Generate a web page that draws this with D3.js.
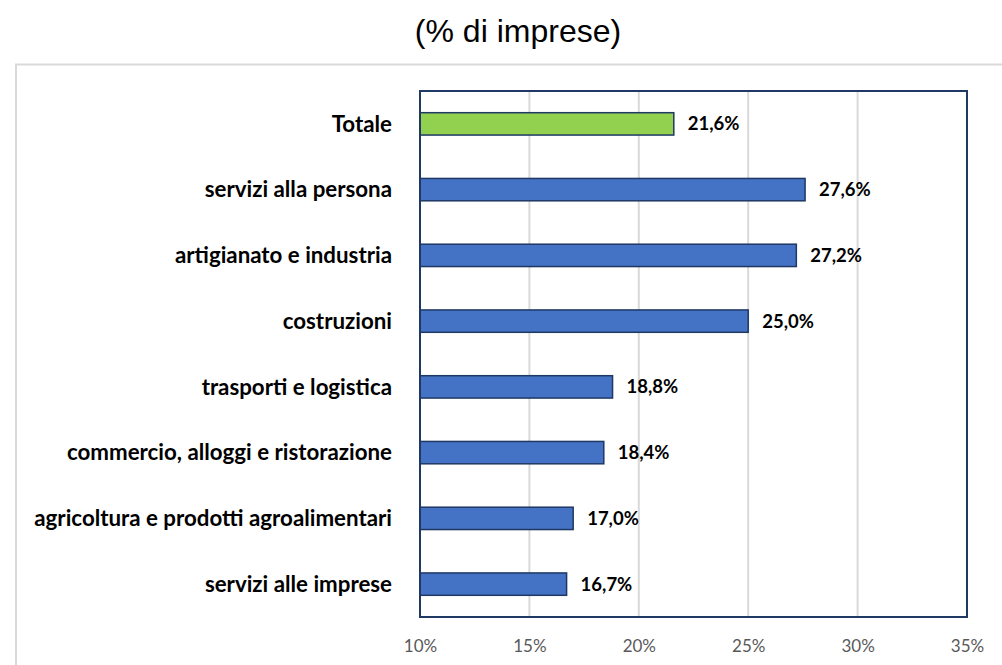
<!DOCTYPE html>
<html><head><meta charset="utf-8">
<script src="https://cdn.jsdelivr.net/npm/d3@7"></script>
<style>body{margin:0;background:#fff}svg{display:block}</style>
</head><body>
<svg id="c" width="1002" height="665"></svg>
<script>
const categories = ["Totale","servizi alla persona","artigianato e industria","costruzioni","trasporti e logistica","commercio, alloggi e ristorazione","agricoltura e prodotti agroalimentari","servizi alle imprese"];
const values = [21.6,27.6,27.2,25.0,18.8,18.4,17.0,16.7];
const tickValues = [10,15,20,25,30,35];
const title = "(% di imprese)";

const svg = d3.select("#c");
const pL = 420, pR = 967, pT = 91, pB = 617;
const x = d3.scaleLinear().domain([10,35]).range([pL,pR]);
const y = d3.scaleBand().domain(categories).range([pT,pB]).paddingInner(0.66).paddingOuter(0.33);

// outer frame
svg.append("path").attr("d","M16,1000 L16,64.5 L1010,64.5").attr("fill","none").attr("stroke","#D9D9D9").attr("stroke-width",2);

svg.append("text").attr("x",518).attr("y",42).attr("text-anchor","middle")
  .attr("font-family","Liberation Sans, Arial, sans-serif").attr("font-size",32).attr("fill","#000").text(title);

// grid
svg.append("g").selectAll("line").data(tickValues.slice(1,-1)).join("line")
  .attr("x1",d=>x(d)).attr("x2",d=>x(d)).attr("y1",pT).attr("y2",pB)
  .attr("stroke","#D9D9D9").attr("stroke-width",2);

// bars
svg.append("g").selectAll("rect").data(values).join("rect")
  .attr("x",x(10)).attr("y",(d,i)=>y(categories[i]))
  .attr("width",d=>x(d)-x(10)).attr("height",y.bandwidth())
  .attr("fill",(d,i)=>i===0?"#92D050":"#4472C4")
  .attr("stroke","#1F3864").attr("stroke-width",1.5);

// plot border
svg.append("rect").attr("x",pL).attr("y",pT).attr("width",pR-pL).attr("height",pB-pT)
  .attr("fill","none").attr("stroke","#1F3864").attr("stroke-width",2);

// value labels
svg.append("g").selectAll("text").data(values).join("text")
  .attr("x",d=>x(d)+14).attr("y",(d,i)=>y(categories[i])+y.bandwidth()/2).attr("dy","0.35em")
  .attr("font-family","Lato, sans-serif").attr("font-weight","bold").attr("font-size",18.5).attr("fill","#000")
  .text(d=>d3.format(".1f")(d).replace(".",",")+"%");

// category labels
svg.append("g").selectAll("text").data(categories).join("text")
  .attr("x",392).attr("y",d=>y(d)+y.bandwidth()/2).attr("dy","0.35em").attr("text-anchor","end")
  .attr("font-family","Lato, sans-serif").attr("font-weight","bold").attr("font-size",22.3).attr("fill","#000")
  .text(d=>d);

// x axis
const ax = svg.append("g").attr("transform",`translate(0,${pB})`)
  .call(d3.axisBottom(x).tickValues(tickValues).tickFormat(d=>d+"%").tickSize(0).tickPadding(23));
ax.select(".domain").remove();
ax.selectAll("text").attr("font-family","Lato, sans-serif").attr("font-size",17).attr("fill","#595959");
</script>
</body></html>
